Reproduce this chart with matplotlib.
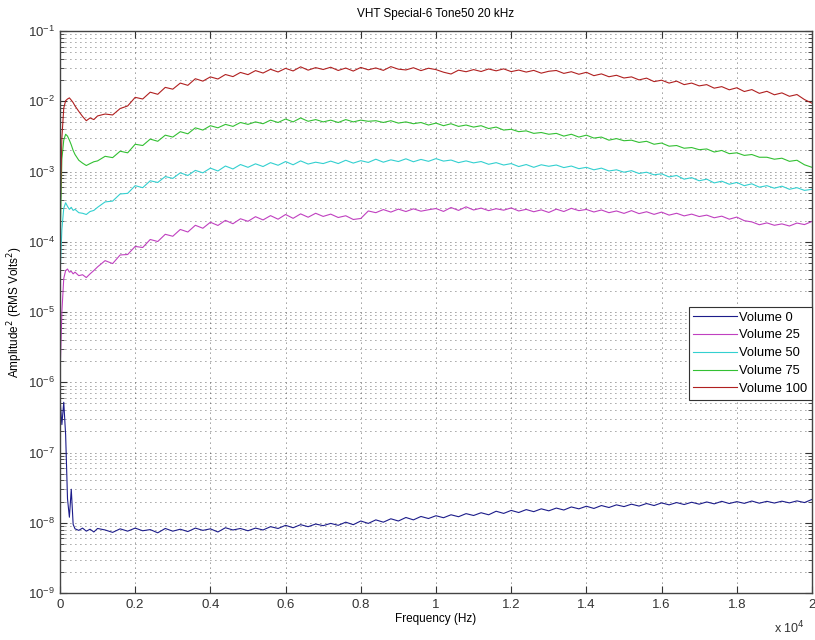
import numpy as np
import matplotlib
matplotlib.use('Agg')
import matplotlib.pyplot as plt
from matplotlib.ticker import LogLocator, FixedLocator, FixedFormatter, NullFormatter

plt.rcParams['font.family'] = ['Liberation Sans', 'DejaVu Sans']

# frequency bins (Hz)
freq = [0, 50, 100, 150, 200, 250, 300, 350, 400, 500, 600, 700, 800, 900, 1000] + list(range(1200, 20001, 200))

# Volume 100, x1e-3
red = [0.2, 3.0, 8.0, 10.2, 10.8, 11.2, 10.4, 9.6, 8.6, 7.2, 6.1, 5.3, 5.8, 5.5, 6.2,
       6.6, 6.4, 7.9, 8.6, 11.4, 10.8, 13.5, 12.6, 15.8, 14.9,
       18.2, 16.9, 21.0, 19.4, 22.3, 20.8, 24.1, 22.5, 25.8, 24.0,
       27.4, 25.3, 28.6, 26.2, 29.5, 27.1, 31.0, 27.8, 30.2, 28.4,
       30.6, 27.5, 29.8, 27.0, 30.4, 28.1, 29.9, 27.6, 31.2, 28.7,
       28.0, 30.1, 27.4, 29.6, 28.3, 26.0, 24.5, 27.8, 26.4, 28.3,
       26.6, 28.9, 27.2, 29.0, 26.5, 27.9, 26.1, 27.6, 25.2, 26.8,
       27.5, 25.0, 26.4, 24.3, 25.9, 23.2, 24.6, 22.4, 23.5, 21.5,
       22.3, 20.2, 21.4, 19.1, 20.0, 18.2, 19.4, 17.3, 18.2, 16.6,
       17.3, 15.4, 16.2, 14.6, 15.6, 13.8, 14.7, 13.0, 13.9, 12.4,
       13.2, 11.8, 12.5, 10.6, 9.4]

# Volume 75, x1e-3
green = [0.08, 1.5, 2.8, 3.4, 3.2, 2.8, 2.4, 2.0, 1.75, 1.45, 1.32, 1.22, 1.3, 1.38, 1.42,
         1.65, 1.58, 1.95, 1.85, 2.45, 2.35, 2.9, 2.7, 3.3, 3.1,
         3.7, 3.45, 4.2, 3.9, 4.5, 4.2, 4.7, 4.4, 5.0, 4.7,
         5.1, 4.8, 5.4, 5.0, 5.6, 5.1, 5.8, 5.2, 5.5, 5.1,
         5.4, 5.0, 5.5, 5.1, 5.4, 5.2, 5.3, 5.0, 5.3, 4.9,
         5.1, 4.8, 5.0, 4.6, 4.9, 4.5, 4.8, 4.4, 4.6, 4.3,
         4.5, 4.1, 4.3, 3.9, 4.0, 3.7, 3.8, 3.5, 3.6, 3.4,
         3.5, 3.2, 3.4, 3.1, 3.3, 3.0, 3.1, 2.8, 2.95, 2.75,
         2.8, 2.6, 2.7, 2.45, 2.55, 2.3, 2.35, 2.15, 2.2, 2.05,
         2.1, 1.9, 2.0, 1.8, 1.85, 1.7, 1.75, 1.6, 1.6, 1.5,
         1.55, 1.4, 1.45, 1.25, 1.15]

# Volume 50, x1e-4
cyan = [0.3, 1.5, 3.0, 3.6, 3.2, 2.9, 3.1, 2.8, 2.9, 2.6, 2.55, 2.45, 2.7, 2.8, 3.1,
        3.7, 3.8, 4.8, 4.9, 6.3, 5.9, 7.4, 7.0, 8.5, 8.0,
        9.6, 8.8, 10.4, 9.6, 11.2, 10.2, 12.0, 10.9, 12.6, 11.5,
        12.9, 11.8, 13.4, 12.3, 13.9, 12.5, 14.2, 12.8, 13.6, 13.0,
        14.1, 13.0, 14.5, 13.2, 14.3, 13.5, 15.0, 13.6, 14.7, 13.9,
        15.2, 13.8, 14.9, 14.0, 15.3, 14.1, 14.6, 13.4, 14.2, 13.3,
        13.9, 12.7, 13.4, 12.4, 13.0, 11.8, 12.6, 11.5, 12.5, 11.9,
        12.4, 11.4, 12.0, 11.0, 11.5, 10.6, 11.2, 10.2, 10.6, 9.8,
        10.3, 9.4, 9.8, 9.0, 9.3, 8.4, 8.8, 7.8, 8.2, 7.4,
        7.8, 6.9, 7.3, 6.6, 7.0, 6.3, 6.7, 6.0, 6.3, 5.8,
        6.2, 5.6, 5.9, 5.4, 5.6]

# Volume 25, x1e-5
magenta = [0.12, 1.0, 3.0, 3.9, 4.1, 3.7, 3.8, 3.5, 3.7, 3.3, 3.4, 3.1, 3.5, 3.9, 4.4,
           5.4, 4.9, 6.5, 6.6, 8.6, 8.3, 10.8, 10.1, 12.8, 12.0,
           15.0, 13.8, 17.2, 15.6, 19.0, 17.1, 20.2, 18.1, 21.3, 19.6,
           22.8, 20.5, 23.6, 21.0, 24.5, 21.6, 25.0, 22.4, 25.5, 23.0,
           24.8, 22.2, 23.5, 20.8, 21.5, 27.5, 26.0, 28.8, 26.5, 29.2,
           27.0, 29.5, 27.3, 28.6, 29.8, 27.1, 30.8, 28.0, 31.5, 28.4,
           30.2, 27.8, 29.6, 28.2, 30.4, 27.5, 29.0, 26.8, 28.5, 26.2,
           29.2, 27.0, 30.0, 27.8, 28.9, 26.6, 28.4, 26.0, 27.5, 25.4,
           27.8, 25.2, 26.8, 24.6, 26.5, 24.0, 25.5, 23.4, 24.8, 22.9,
           24.0, 22.0, 23.2, 21.0, 22.5, 20.0, 19.2, 17.5, 18.6, 17.2,
           18.0, 16.8, 18.5, 17.6, 19.5]

# Volume 0, x1e-9
blue = [600, 250, 520, 180, 22, 12, 30, 9.5, 8.2, 7.8, 8.4, 7.6, 8.1, 7.4, 8.3,
        7.9, 7.3, 8.2, 7.6, 8.4, 7.7, 8.0, 7.2, 8.3, 7.6,
        8.1, 7.5, 8.4, 7.8, 8.2, 7.4, 8.5, 7.9, 8.3, 7.7,
        8.4, 7.9, 8.8, 8.3, 9.2, 8.5, 9.4, 8.8, 9.6, 9.1,
        9.8, 9.2, 10.2, 9.4, 10.6, 9.8, 11.0, 10.2, 11.4, 10.6,
        11.9, 11.0, 12.3, 11.5, 12.6, 11.8, 13.0, 12.2, 13.5, 12.7,
        13.9, 13.0, 14.6, 13.6, 15.0, 14.0, 15.4, 14.4, 15.8, 14.8,
        16.2, 15.2, 16.8, 15.8, 17.2, 16.0, 17.6, 16.5, 18.0, 17.0,
        18.4, 17.3, 18.8, 17.6, 19.2, 18.0, 19.4, 18.2, 19.6, 18.4,
        19.8, 18.6, 20.2, 18.8, 20.0, 18.9, 20.4, 19.0, 20.2, 19.1,
        20.3, 19.2, 20.5, 19.4, 21.5]

labels = ['Volume 0', 'Volume 25', 'Volume 50', 'Volume 75', 'Volume 100']
series = [(np.array(blue) * 1e-9, '#1c1c8a'),
          (np.array(magenta) * 1e-5, '#c040c0'),
          (np.array(cyan) * 1e-4, '#33d0d0'),
          (np.array(green) * 1e-3, '#33c033'),
          (np.array(red) * 1e-3, '#b02020')]

xticks = [0, 2000, 4000, 6000, 8000, 10000, 12000, 14000, 16000, 18000, 20000]

fig = plt.figure(figsize=(8.15, 6.4), dpi=100)
ax = fig.add_axes([0.0736, 0.0734, 0.9227, 0.878])

for (vals, col), lab in zip(series, labels):
    ax.semilogy(freq, vals, color=col, lw=0.8, label=lab)

ax.set_xlim(0, 20000)
ax.set_ylim(1e-9, 1e-1)
ax.xaxis.set_major_locator(FixedLocator(xticks))
ax.xaxis.set_major_formatter(FixedFormatter(['%g' % (t / 1e4) for t in xticks]))
ax.yaxis.set_major_locator(LogLocator(base=10, numticks=20))
ax.yaxis.set_minor_locator(LogLocator(base=10, subs=np.arange(2, 10), numticks=20))
ax.yaxis.set_minor_formatter(NullFormatter())

ax.tick_params(which='both', direction='in', top=True, right=True, labelsize=9.5, colors='#333333')
ax.tick_params(which='major', length=5)
ax.tick_params(which='minor', length=3)
ax.tick_params(axis='x', pad=4)
for s in ax.spines.values():
    s.set_color('#444444')
    s.set_linewidth(1.0)

ax.grid(True, which='major', linestyle=(0, (1, 5)), color='#333333', lw=0.6)
ax.grid(True, which='minor', axis='y', linestyle=(0, (1, 5)), color='#444444', lw=0.6)

ax.set_title('VHT Special-6 Tone50 20 kHz', fontsize=8.5, pad=10)
ax.set_xlabel('Frequency (Hz)', fontsize=8.5, labelpad=2)
ax.set_ylabel('Amplitude$^2$ (RMS Volts$^2$)', fontsize=8.5, labelpad=2)
fig.text(0.988, 0.006, r'x 10$^4$', fontsize=9, ha='right', va='bottom', color='#333333')

leg = ax.legend(loc='upper right', bbox_to_anchor=(1.0, 0.509), fontsize=9.3,
                fancybox=False, framealpha=1, edgecolor='#333333', borderpad=0.35,
                handlelength=3.4, handletextpad=0.15, labelspacing=0.45, borderaxespad=0)
leg.get_frame().set_linewidth(0.8)

fig.savefig('out.png', dpi=100)
